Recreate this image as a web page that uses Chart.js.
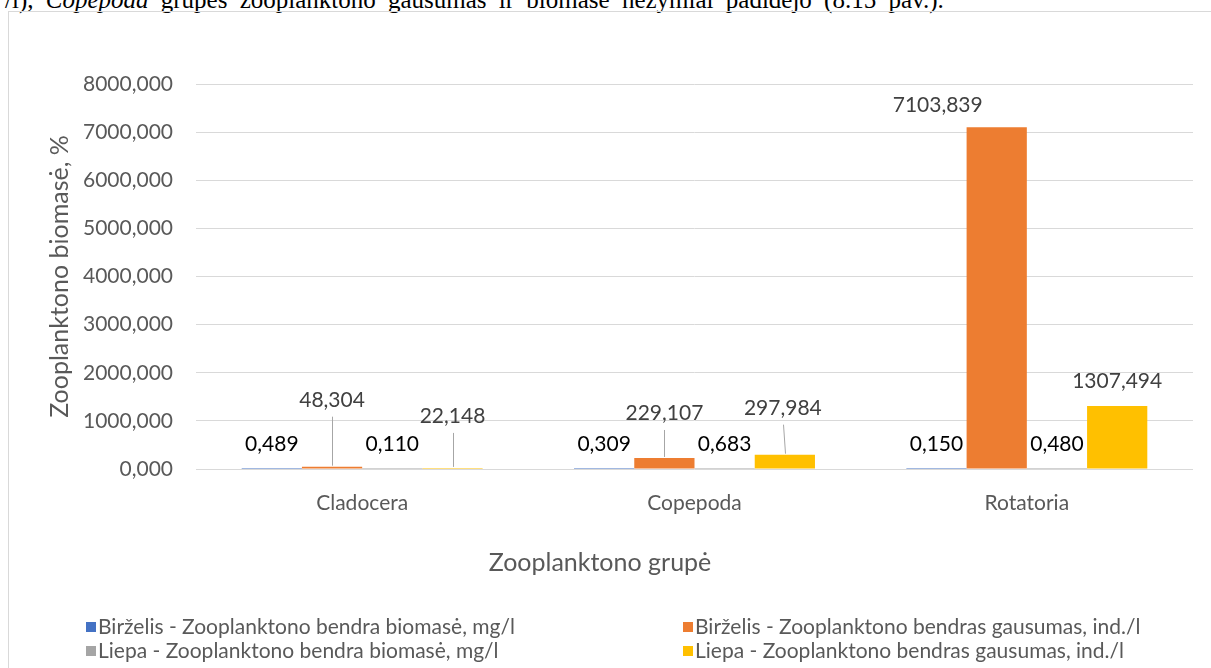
<!DOCTYPE html>
<html lang="lt">
<head>
<meta charset="utf-8">
<title>Zooplanktono grupės</title>
<script src="https://cdn.jsdelivr.net/npm/chart.js@4.4.1/dist/chart.umd.min.js"></script>
<style>
  html, body { margin: 0; padding: 0; background: #fff; overflow: hidden; }
  body { width: 1211px; height: 668px; position: relative; }
  .tekstas {
    position: absolute; left: 5px; top: -13px;
    font: 25px/25px "Liberation Serif", "Times New Roman", serif;
    word-spacing: 6px;
    color: #000; white-space: nowrap;
  }
  .remelis {
    position: absolute; left: 8px; top: 11px;
    width: 1300px; height: 700px; border: 1px solid #d9d9d9;
  }
  .grafikas { position: absolute; left: 0; top: 0; width: 1211px; height: 668px; }
</style>
</head>
<body>
<div class="tekstas">/l), <i>Copepoda</i> grupės zooplanktono gausumas ir biomasė nežymiai padidėjo (8.15 pav.).</div>
<div class="remelis"></div>
<div class="grafikas"><canvas id="zooChart"></canvas></div>

<script>
// zooplanktono grupės (x ašis)
var grupes = ['Cladocera', 'Copepoda', 'Rotatoria'];

// birželio ir liepos reikšmės
var birzelisBiomase = [0.489, 0.309, 0.150];
var birzelisGausumas = [48.304, 229.107, 7103.839];
var liepaBiomase = [0.110, 0.683, 0.480];
var liepaGausumas = [22.148, 297.984, 1307.494];

// y ašies ribos
var yMin = 0;
var yMax = 8000;
var yZingsnis = 1000;

var serijuPavadinimai = [
    'Birželis - Zooplanktono bendra biomasė, mg/l',
    'Birželis - Zooplanktono bendras gausumas, ind./l',
    'Liepa - Zooplanktono bendra biomasė, mg/l',
    'Liepa - Zooplanktono bendras gausumas, ind./l'
];

var xPavadinimas = 'Zooplanktono grupė';
var yPavadinimas = 'Zooplanktono biomasė, %';

// ranka perkeltos etiketės: poslinkis px ir ar brėžti rodyklės liniją
var etikeciuPoslinkiai = {
    '1-0': { dx: 0, dy: -42, linija: true },
    '3-0': { dx: 0, dy: -27, linija: true },
    '1-1': { dx: 0, dy: -20, linija: true },
    '3-1': { dx: -2, dy: -22, linija: true },
    '1-2': { dx: -59, dy: 3, linija: false }
};

// legendos stulpeliai ir eilutės, x ašies pavadinimo vieta
var legendosStulpeliai = [86, 683];
var legendosEilutes = [627, 651];
var xPavadinimoVieta = { x: 600, y: 563 };

var sriftas = 'Lato';
var pilka = '#595959';

// 8000,000 formatas (kablelis, 3 skaitmenys)
function formatuoti(v) {
    return Number(v).toFixed(3).replace('.', ',');
}

// reikšmių etiketės virš stulpelių
var reiksmiuEtiketes = {
    id: 'reiksmiuEtiketes',
    afterDatasetsDraw: function(chart) {
        var ctx = chart.ctx;
        ctx.save();
        ctx.font = '21px ' + sriftas;
        ctx.textAlign = 'center';
        ctx.textBaseline = 'alphabetic';
        chart.data.datasets.forEach(function(ds, di) {
            var meta = chart.getDatasetMeta(di);
            meta.data.forEach(function(bar, i) {
                var p = etikeciuPoslinkiai[di + '-' + i] || { dx: 0, dy: 0, linija: false };
                var x = bar.x + p.dx;
                var bazine = bar.y - 18 + p.dy;
                if (p.linija) {
                    ctx.strokeStyle = '#a6a6a6';
                    ctx.lineWidth = 1;
                    ctx.beginPath();
                    ctx.moveTo(Math.round(x) + 0.5, bazine + 10);
                    ctx.lineTo(Math.round(bar.x) + 0.5, bar.y - 1);
                    ctx.stroke();
                }
                ctx.fillStyle = ds.etiketesSpalva;
                ctx.fillText(formatuoti(ds.data[i]), x, bazine);
            });
        });
        ctx.restore();
    }
};

// x ašies pavadinimas ir legenda dviem stulpeliais
var legenda = {
    id: 'legenda',
    afterDraw: function(chart) {
        var ctx = chart.ctx;
        ctx.save();
        ctx.textBaseline = 'middle';

        ctx.font = '25px ' + sriftas;
        ctx.textAlign = 'center';
        ctx.fillStyle = pilka;
        ctx.fillText(xPavadinimas, xPavadinimoVieta.x, xPavadinimoVieta.y);

        ctx.font = '21px ' + sriftas;
        ctx.textAlign = 'left';
        chart.data.datasets.forEach(function(ds, i) {
            var x = legendosStulpeliai[i % 2];
            var y = legendosEilutes[Math.floor(i / 2)];
            ctx.fillStyle = ds.backgroundColor;
            ctx.fillRect(x, y - 5, 10, 10);
            ctx.fillStyle = pilka;
            ctx.fillText(ds.label, x + 12, y);
        });
        ctx.restore();
    }
};

var ctx = document.getElementById('zooChart').getContext('2d');
var zooChart = new Chart(ctx, {
    type: 'bar',
    data: {
        labels: grupes,
        datasets: [{
            label: serijuPavadinimai[0],
            data: birzelisBiomase,
            backgroundColor: '#4472c4',
            etiketesSpalva: '#000000'
        }, {
            label: serijuPavadinimai[1],
            data: birzelisGausumas,
            backgroundColor: '#ed7d31',
            etiketesSpalva: '#404040'
        }, {
            label: serijuPavadinimai[2],
            data: liepaBiomase,
            backgroundColor: '#a5a5a5',
            etiketesSpalva: '#000000'
        }, {
            label: serijuPavadinimai[3],
            data: liepaGausumas,
            backgroundColor: '#ffc000',
            etiketesSpalva: '#404040'
        }]
    },
    options: {
        responsive: true,
        maintainAspectRatio: false,
        animation: false,
        layout: {
            padding: { left: 10, right: 18, top: 84, bottom: 89 }
        },
        datasets: {
            bar: { categoryPercentage: 0.725, barPercentage: 1 }
        },
        plugins: {
            legend: { display: false },
            tooltip: { enabled: false }
        },
        scales: {
            x: {
                grid: { display: false },
                border: { display: false },
                ticks: {
                    color: pilka,
                    font: { family: sriftas, size: 21 },
                    padding: 14,
                    maxRotation: 0,
                    autoSkip: false
                },
                afterFit: function(scale) { scale.height = 110; }
            },
            y: {
                min: yMin,
                max: yMax,
                grid: { color: '#d9d9d9', lineWidth: 1, drawTicks: false },
                border: { display: false },
                ticks: {
                    stepSize: yZingsnis,
                    color: pilka,
                    font: { family: sriftas, size: 21 },
                    padding: 23,
                    callback: function(v) { return formatuoti(v); }
                },
                title: {
                    display: true,
                    text: yPavadinimas,
                    color: pilka,
                    font: { family: sriftas, size: 25 },
                    padding: { top: 35, bottom: 0 }
                },
                afterFit: function(scale) { scale.width = 186; }
            }
        }
    },
    plugins: [reiksmiuEtiketes, legenda]
});
</script>
</body>
</html>
